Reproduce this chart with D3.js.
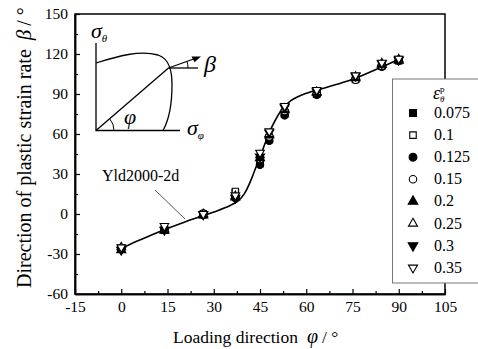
<!DOCTYPE html>
<html>
<head>
<meta charset="utf-8">
<script src="https://cdn.jsdelivr.net/npm/d3@7"></script>
<style>
  html, body { margin: 0; padding: 0; background: #fff; }
  svg { display: block; }
</style>
</head>
<body>
<svg id="chart" width="478" height="349"></svg>
<script>
// Loading directions (deg) of the measured points
const loadAngles = [0, 14, 26.6, 37, 45, 48, 53, 63.4, 76, 84.5, 90];

// Measured direction of plastic strain rate (deg), one array per plastic strain level
const strainLevels = ["0.075", "0.1", "0.125", "0.15", "0.2", "0.25", "0.3", "0.35"];
const beta0075 = [-26, -12, -0.5, 16, 38, 56, 75, 90, 101, 111, 115];
const beta010  = [-25.5, -11.5, 0, 17, 40, 57, 76, 91, 102, 112, 116];
const beta0125 = [-26.5, -12, -0.5, 12, 37, 55, 74, 89.5, 101, 110.5, 115];
const beta015  = [-26, -11, 0.5, 13, 41, 58, 77, 90.5, 100.5, 111, 115.5];
const beta020  = [-27, -12.5, -1, 12.5, 42, 59, 78, 91, 102, 112, 115];
const beta025  = [-25, -11.5, 0, 13.5, 44, 60, 79, 91.5, 103, 113, 116];
const beta030  = [-27, -12, -0.5, 12, 43, 61, 80, 92, 103.5, 113, 115.5];
const beta035  = [-25, -9, 0, 14, 46, 62, 81, 93, 104, 113.5, 116.5];
const betaSeries = [beta0075, beta010, beta0125, beta015, beta020, beta025, beta030, beta035];

// Yld2000-2d prediction
const modelPhi  = [0, 5, 10, 15, 20, 25, 30, 35, 38, 40, 42, 44, 46, 48, 50, 52, 55, 60, 65, 70, 75, 80, 85, 90];
const modelBeta = [-26, -20.5, -15.5, -10.8, -6.5, -2.5, 1.5, 6, 10, 15.5, 25, 37, 49, 61, 70.5, 78, 85, 90.5, 94, 97.3, 101, 105.8, 110.8, 116];

// Axis ticks
const xTicks = [-15, 0, 15, 30, 45, 60, 75, 90, 105];
const yTicks = [-60, -30, 0, 30, 60, 90, 120, 150];

const FONT = "Liberation Serif";
const svg = d3.select("#chart").attr("font-family", FONT);
const x = d3.scaleLinear().domain([-15, 105]).range([75, 445]);
const y = d3.scaleLinear().domain([-60, 150]).range([294, 14]);

// marker styles per strain level
const markerShapes = [
  { type: d3.symbolSquare, size: 44, fill: "#000", rot: 0 },
  { type: d3.symbolSquare, size: 38, fill: "#fff", rot: 0 },
  { type: d3.symbolCircle, size: 44, fill: "#000", rot: 0 },
  { type: d3.symbolCircle, size: 40, fill: "#fff", rot: 0 },
  { type: d3.symbolTriangle, size: 36, fill: "#000", rot: 0 },
  { type: d3.symbolTriangle, size: 32, fill: "#fff", rot: 0 },
  { type: d3.symbolTriangle, size: 36, fill: "#000", rot: 180 },
  { type: d3.symbolTriangle, size: 32, fill: "#fff", rot: 180 }
];

const addText = (parent, xx, yy, size) =>
  parent.append("text").attr("x", xx).attr("y", yy)
    .attr("font-family", FONT).attr("font-size", size).attr("fill", "#000");

// frame
svg.append("rect")
  .attr("x", x(-15)).attr("y", y(150))
  .attr("width", x(105) - x(-15)).attr("height", y(-60) - y(150))
  .attr("fill", "none").attr("stroke", "#000").attr("stroke-width", 1.5);

// axes with inward ticks
const xAxis = svg.append("g").attr("transform", `translate(0,${y(-60)})`)
  .call(d3.axisBottom(x).tickValues(xTicks).tickSizeInner(-5).tickSizeOuter(0).tickPadding(7)
    .tickFormat(d => d));
const yAxis = svg.append("g").attr("transform", `translate(${x(-15)},0)`)
  .call(d3.axisLeft(y).tickValues(yTicks).tickSizeInner(-5).tickSizeOuter(0).tickPadding(7)
    .tickFormat(d => d));
const xMinor = svg.append("g").attr("transform", `translate(0,${y(-60)})`)
  .call(d3.axisBottom(x).tickValues(xTicks.slice(0, -1).map(d => d + 7.5)).tickSizeInner(-3).tickSizeOuter(0).tickFormat(""));
const yMinor = svg.append("g").attr("transform", `translate(${x(-15)},0)`)
  .call(d3.axisLeft(y).tickValues(yTicks.slice(0, -1).map(d => d + 15)).tickSizeInner(-3).tickSizeOuter(0).tickFormat(""));

[xAxis, yAxis, xMinor, yMinor].forEach(g => {
  g.attr("font-family", FONT).attr("font-size", 15.5);
  g.select(".domain").attr("stroke", "#000").attr("stroke-width", 1.5);
  g.selectAll(".tick line").attr("stroke", "#000").attr("stroke-width", 1.2);
  g.selectAll(".tick text").attr("fill", "#000").attr("font-family", FONT).attr("font-size", 15.5);
});

// axis titles
addText(svg, 173, 343, 17.5)
  .call(t => {
    t.append("tspan").text("Loading direction");
    t.append("tspan").attr("dx", 9).attr("font-style", "italic").attr("font-size", 20).text("φ");
    t.append("tspan").attr("dx", 4).text("/ °");
  });

addText(svg, 0, 0, 20)
  .attr("transform", "translate(31,288) rotate(-90)")
  .call(t => {
    t.append("tspan").text("Direction of plastic strain rate");
    t.append("tspan").attr("dx", 9).attr("font-style", "italic").attr("font-size", 21).text("β");
    t.append("tspan").attr("dx", 4).text("/ °");
  });

// model curve
const line = d3.line().x(d => x(d[0])).y(d => y(d[1])).curve(d3.curveCatmullRom.alpha(0.5));
svg.append("path")
  .datum(modelPhi.map((p, i) => [p, modelBeta[i]]))
  .attr("d", line)
  .attr("fill", "none").attr("stroke", "#000").attr("stroke-width", 1.6);

// measured points
const sym = d3.symbol();
betaSeries.forEach((vals, si) => {
  const m = markerShapes[si];
  svg.append("g").selectAll("path")
    .data(vals.map((b, i) => [loadAngles[i], b]))
    .join("path")
    .attr("d", sym.type(m.type).size(m.size)())
    .attr("transform", d => `translate(${x(d[0])},${y(d[1])}) rotate(${m.rot})`)
    .attr("fill", m.fill).attr("stroke", "#000").attr("stroke-width", 1.1);
});

// model label with leader line
svg.append("line")
  .attr("x1", 155).attr("y1", 190).attr("x2", 185).attr("y2", 219)
  .attr("stroke", "#444").attr("stroke-width", 0.9);
addText(svg, 102, 181, 16).text("Yld2000-2d");

// inset: yield locus sketch
const inset = svg.append("g").attr("fill", "none").attr("stroke", "#000").attr("stroke-width", 1.3);
const ox = 96, oy = 130.5;
inset.append("path").attr("d", `M${ox},43 V${oy} H180`);
inset.append("path").attr("d",
  `M${ox},63 C118,56 140,50 158,55 C170,59 172,72 172,85 C172,103 170,118 163,${oy}`);
inset.append("path").attr("d", `M${ox},${oy} L168.5,68`);
inset.append("path").attr("d", `M168.5,68 H198`);
inset.append("path").attr("d", `M168.5,68 L195,58.5`);
svg.append("path").attr("d", "M201,56.5 L191.5,56.6 L194.5,62.3 Z").attr("fill", "#000");
inset.append("path").attr("d", `M188,68 A19.5,19.5 0 0 0 187,61.5`).attr("stroke-width", 1);
inset.append("path").attr("d", `M${ox + 18},${oy} A18,18 0 0 0 ${ox + 13.6},${oy - 11.8}`).attr("stroke-width", 1);

const sigma = (xx, yy, sub) => {
  const t = addText(svg, xx, yy, 22);
  t.append("tspan").attr("font-style", "italic").text("σ");
  t.append("tspan").attr("dy", 4).attr("font-size", 11).attr("font-style", "italic").text(sub);
};
sigma(91, 38, "θ");
sigma(187, 135, "φ");
addText(svg, 204, 72, 24).attr("font-style", "italic").text("β");
addText(svg, 124, 124, 22).attr("font-style", "italic").text("φ");

// legend
const lg = svg.append("g");
lg.append("rect").attr("x", 392.5).attr("y", 79).attr("width", 100).attr("height", 204)
  .attr("fill", "#fff").attr("stroke", "#777").attr("stroke-width", 1);
const lt = addText(lg, 433, 99, 18);
lt.append("tspan").attr("font-style", "italic").text("ε");
lt.append("tspan").attr("dy", -7).attr("font-size", 9).text("p");
lt.append("tspan").attr("dx", -4.5).attr("dy", 10).attr("font-size", 9).attr("font-style", "italic").text("θ");
strainLevels.forEach((lab, i) => {
  const m = markerShapes[i];
  const yy = 113 + i * 22.1;
  lg.append("path")
    .attr("d", sym.type(m.type).size(m.size * 1.1)())
    .attr("transform", `translate(413,${yy}) rotate(${m.rot})`)
    .attr("fill", m.fill).attr("stroke", "#000").attr("stroke-width", 1.1);
  addText(lg, 434, yy + 5, 16).text(lab);
});
</script>
</body>
</html>
